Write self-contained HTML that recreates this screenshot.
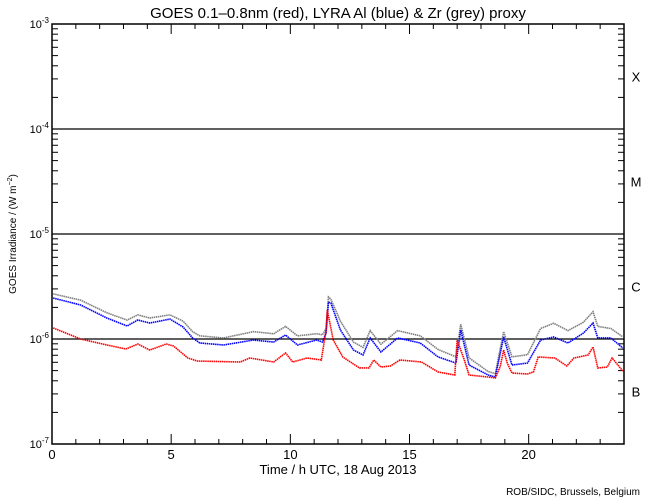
<!DOCTYPE html>
<html><head><meta charset="utf-8"><style>
html,body{margin:0;padding:0;background:#fff;}
svg{display:block;font-family:"Liberation Sans",sans-serif;}
</style></head><body>
<svg id="chart" width="650" height="500" viewBox="0 0 650 500">
<rect width="650" height="500" fill="#fff"/>
<text x="338" y="18" font-size="15" text-anchor="middle">GOES 0.1–0.8nm (red), LYRA Al (blue) &amp; Zr (grey) proxy</text>
<text x="338" y="474" font-size="13" text-anchor="middle">Time / h UTC, 18 Aug 2013</text>
<text x="640" y="495" font-size="10" text-anchor="end">ROB/SIDC, Brussels, Belgium</text>
<text transform="translate(16,234) rotate(-90)" font-size="10" text-anchor="middle">GOES Irradiance / (W m<tspan dy="-4" font-size="7">−2</tspan><tspan dy="4">)</tspan></text>
<g id="axes"></g>
<g id="series"></g>
</svg>
<script>
const redT=[0.05,1.2,2.3,3.1,3.6,4.1,4.8,5.1,5.7,6.1,7.9,8.3,9.3,9.8,10.1,10.7,11.3,11.5,11.55,11.8,12.2,12.9,13.3,13.5,13.8,14.2,14.6,15.5,16.2,16.9,17.0,17.3,17.5,18.3,18.6,18.8,18.95,19.1,19.3,19.95,20.2,20.4,21.1,21.6,21.9,22.5,22.7,22.9,23.3,23.5,23.95];
const redLog=[-5.895,-6.0,-6.057,-6.095,-6.048,-6.105,-6.048,-6.067,-6.181,-6.21,-6.219,-6.181,-6.219,-6.133,-6.219,-6.181,-6.2,-5.914,-5.724,-6.01,-6.171,-6.276,-6.276,-6.2,-6.267,-6.257,-6.2,-6.219,-6.314,-6.343,-6.01,-6.2,-6.343,-6.362,-6.371,-6.267,-6.105,-6.229,-6.324,-6.333,-6.314,-6.171,-6.181,-6.257,-6.181,-6.152,-6.076,-6.276,-6.267,-6.181,-6.305];
const lyraT=[0.05,1.2,2.3,3.15,3.6,4.1,4.95,5.5,5.9,6.2,7.2,8.45,9.3,9.8,10.3,11.1,11.35,11.5,11.6,11.7,12.1,12.65,13.05,13.35,13.8,14.5,15.45,16.2,16.95,17.15,17.5,18.3,18.6,18.95,19.3,19.95,20.5,21.05,21.65,22.3,22.7,22.9,23.45,23.95];
const blueLog=[-5.61,-5.676,-5.8,-5.876,-5.819,-5.848,-5.81,-5.886,-5.99,-6.038,-6.057,-6.01,-6.029,-5.962,-6.057,-6.01,-6.029,-5.943,-5.648,-5.657,-5.914,-6.105,-6.152,-5.99,-6.124,-5.99,-6.038,-6.171,-6.229,-5.914,-6.248,-6.343,-6.362,-5.981,-6.248,-6.229,-6.01,-5.981,-6.038,-5.943,-5.848,-5.99,-5.99,-6.086];
const greyLog=[-5.57,-5.63,-5.75,-5.82,-5.77,-5.80,-5.77,-5.83,-5.93,-5.97,-5.99,-5.93,-5.95,-5.88,-5.97,-5.95,-5.96,-5.90,-5.60,-5.62,-5.83,-6.03,-6.08,-5.92,-6.05,-5.92,-5.97,-6.10,-6.17,-5.86,-6.18,-6.31,-6.33,-5.93,-6.17,-6.15,-5.90,-5.85,-5.92,-5.84,-5.74,-5.88,-5.90,-5.98];
const xTicks=[0,5,10,15,20];
const yDecades=[-3,-4,-5,-6,-7];
const classLabels=["X","M","C","B"];
const classLogs=[-3.5,-4.5,-5.5,-6.5];

const X0=52,X1=624,Y0=24,Y1=444;
const xs=t=>X0+(X1-X0)*t/24;
const ys=l=>Y0+(Y1-Y0)*(-3-l)/4;
const NS="http://www.w3.org/2000/svg";
function mk(tag,attrs,parent){const e=document.createElementNS(NS,tag);for(const k in attrs)e.setAttribute(k,attrs[k]);parent.appendChild(e);return e;}
const ax=document.getElementById('axes');
let fr=mk('rect',{x:X0,y:Y0,width:X1-X0,height:Y1-Y0,fill:'none',stroke:'#000','stroke-width':1.5},ax);


for(const d of [-4,-5,-6]){
  let l=mk('line',{x1:X0,x2:X1,y1:ys(d),y2:ys(d),stroke:'#000','stroke-width':1.3},ax);
  
  
}
for(let h=0;h<=24;h++){
  const len=(h%5===0)?10:5;
  mk('line',{x1:xs(h),x2:xs(h),y1:Y1,y2:Y1-len,stroke:'#000'},ax);
  mk('line',{x1:xs(h),x2:xs(h),y1:Y0,y2:Y0+len,stroke:'#000'},ax);
}
xTicks.forEach(v=>{
  let t=mk('text',{x:xs(v),y:Y1+15,'font-size':13,'text-anchor':'middle'},ax);
  t.textContent=v;
  
  
});
yDecades.forEach(d=>{
  if(d>-7){for(let m=2;m<=9;m++){const y=ys(d-1+Math.log10(m));
    mk('line',{x1:X0,x2:X0+6,y1:y,y2:y,stroke:'#000'},ax);
    mk('line',{x1:X1,x2:X1-6,y1:y,y2:y,stroke:'#000'},ax);}}
  mk('line',{x1:X0,x2:X0+12,y1:ys(d),y2:ys(d),stroke:'#000'},ax);
  mk('line',{x1:X1,x2:X1-12,y1:ys(d),y2:ys(d),stroke:'#000'},ax);
  let t=mk('text',{x:X0-3,y:ys(d)+4,'font-size':11,'text-anchor':'end'},ax);
  t.innerHTML='10<tspan dy="-5" font-size="8">'+d+'</tspan>';
  
  
});
classLabels.forEach((c,i)=>{
  let t=mk('text',{x:636,y:ys(classLogs[i])+5,'font-size':13,'text-anchor':'middle'},ax);
  t.textContent=c;
  
  
});
const sg=document.getElementById('series');
function line(ts,ls,color,name){
  let p=mk('polyline',{points:ts.map((t,i)=>xs(t)+','+ys(ls[i])).join(' '),fill:'none',stroke:color,'stroke-width':1.6,'stroke-dasharray':'1.5 0.6'},sg);
  
  
}
line(lyraT,greyLog,'#808080','zr-proxy-series');
line(lyraT,blueLog,'#0000ff','al-proxy-series');
line(redT,redLog,'#ff0000','goes-series');
</script>
</body></html>
